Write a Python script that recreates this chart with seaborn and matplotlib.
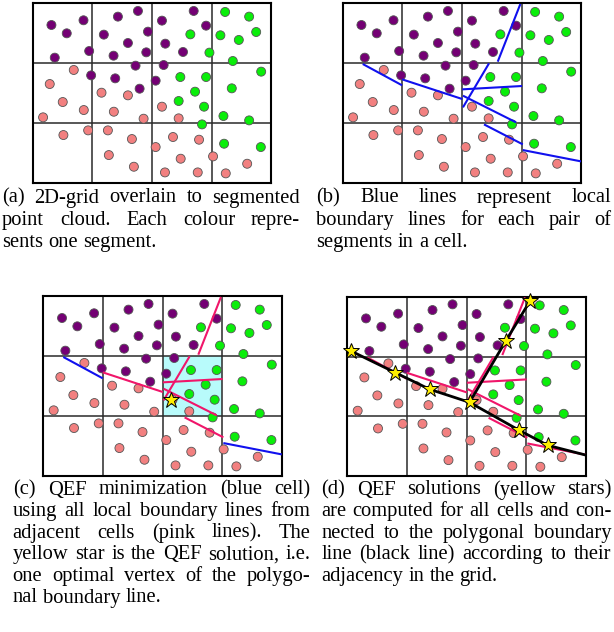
import matplotlib
matplotlib.use("Agg")
import matplotlib.pyplot as plt
import seaborn as sns
import pandas as pd
import numpy as np

sns.set_theme(style="white")
plt.rcParams['font.family'] = ['Liberation Serif', 'DejaVu Serif']

# ---- data (grid units: 4 x 3 cells, each cell 10 units; y grows downward) ----
purple_x = [3.14, 5.71, 8.52, 3.70, 9.47, 14.29, 17.65, 11.93, 19.33, 15.97, 13.56, 19.05,
            21.68, 27.00, 29.08, 22.24, 25.21, 17.25, 21.96, 9.80, 13.84, 17.93, 20.62]
purple_y = [3.63, 5.02, 2.84, 9.09, 7.98, 2.23, 1.28, 5.24, 4.74, 6.64, 8.76, 8.20,
            2.90, 1.28, 3.74, 6.75, 8.14, 10.43, 10.32, 12.05, 12.55, 14.28, 12.94]
green_x = [32.27, 36.30, 31.48, 34.57, 37.48, 26.44, 29.64, 33.56, 24.76, 29.08, 38.32,
           27.23, 33.39, 24.48, 28.74, 31.99, 36.30, 28.40, 32.10, 38.26]
green_y = [1.45, 2.23, 5.35, 6.13, 4.80, 5.19, 8.25, 9.65, 12.33, 12.33, 11.43,
           14.78, 14.22, 16.34, 17.29, 18.85, 19.58, 20.25, 23.48, 24.04]
pink_x = [6.89, 2.86, 5.04, 8.57, 1.74, 11.54, 15.97, 13.61, 18.60, 21.68, 24.48, 5.15, 9.30,
          12.61, 16.64, 12.77, 16.97, 20.62, 23.53, 27.90, 24.82, 30.25, 22.18, 27.68, 32.38, 35.97]
pink_y = [11.15, 13.50, 16.51, 17.85, 19.07, 14.95, 15.39, 18.13, 19.30, 17.29, 19.24, 22.03,
          21.25, 21.25, 22.70, 25.38, 27.33, 24.04, 22.36, 22.81, 25.99, 25.60, 28.28, 28.28,
          28.44, 26.83]

# local boundary lines: (x0, y0, x1, y1)
seg_x0 = [3.36, 9.97, 20.06, 20.17, 20.17, 26.0, 23.70, 30.20]
seg_y0 = [10.15, 12.72, 14.39, 15.45, 17.40, 9.76, 20.25, 24.54]
seg_x1 = [9.97, 20.06, 30.08, 29.08, 24.54, 29.8, 30.20, 40.0]
seg_y1 = [13.72, 16.01, 13.83, 19.91, 10.04, 0.11, 23.59, 26.44]
# which lines are pink (adjacent to QEF cell) in panel (c)
seg_pink_c = [False, True, True, True, True, True, True, False]

# QEF solution in panel (c)
qef_c = (21.4, 17.3)
# polygonal boundary in panel (d)
poly1_x = [0.61, 8.06, 13.83, 20.5, 28.83, 33.61, 39.9]
poly1_y = [9.08, 12.70, 15.49, 17.66, 22.34, 24.85, 26.46]
poly2_x = [20.5, 26.61, 30.67]
poly2_y = [17.66, 7.35, 0.67]
stars_x = [0.61, 8.06, 13.83, 20.5, 28.83, 33.61, 26.61, 30.67]
stars_y = [9.08, 12.70, 15.49, 17.66, 22.34, 24.85, 7.35, 0.67]

captions = {
    'a': ["(a) 2D-grid overlain to segmented",
          "point cloud.  Each colour repre-",
          "sents one segment."],
    'b': ["(b) Blue lines represent local",
          "boundary lines for each pair of",
          "segments in a cell."],
    'c': ["(c) QEF minimization (blue cell)",
          "using all local boundary lines from",
          "adjacent cells (pink lines).  The",
          "yellow star is the QEF solution, i.e.",
          "one optimal vertex of the polygo-",
          "nal boundary line."],
    'd': ["(d) QEF solutions (yellow stars)",
          "are computed for all cells and con-",
          "nected to the polygonal boundary",
          "line (black line) according to their",
          "adjacency in the grid."],
}

# ---- styling ----
W, H = 614, 632
fig = plt.figure(figsize=(W / 100, H / 100), dpi=100)
fig.patch.set_facecolor('white')

PURPLE = '#740074'
PINK = '#f28080'
GREEN = '#0aee0a'
BLUE = '#1010ee'
PINKLINE = '#f0166a'

df = pd.DataFrame({
    'x': purple_x + pink_x + green_x,
    'y': purple_y + pink_y + green_y,
    'seg': ['purple'] * len(purple_x) + ['pink'] * len(pink_x) + ['green'] * len(green_x),
})
pal = {'purple': PURPLE, 'pink': PINK, 'green': GREEN}

gw, gh = 238.5, 179.4
panels = {'a': (32.7, 3.3), 'b': (342.7, 3.3), 'c': (43.3, 296.3), 'd': (347.3, 296.7)}


def make_ax(key):
    x0, y0 = panels[key]
    ax = fig.add_axes([x0 / W, 1 - (y0 + gh) / H, gw / W, gh / H])
    ax.set_xlim(0, 40)
    ax.set_ylim(30, 0)
    ax.set_xticks([])
    ax.set_yticks([])
    ax.set_facecolor('white')
    for s in ax.spines.values():
        s.set_color('black')
        s.set_linewidth(1.5)
        s.set_visible(True)
    for v in (10, 20, 30):
        ax.axvline(v, color='#2a2a2a', lw=1.1, zorder=2)
    for h in (10, 20):
        ax.axhline(h, color='#2a2a2a', lw=1.1, zorder=2)
    sns.scatterplot(data=df, x='x', y='y', hue='seg', palette=pal, s=42,
                    edgecolor='#555555', linewidth=0.6, legend=False, ax=ax, zorder=3)
    ax.set_xlabel('')
    ax.set_ylabel('')
    return ax


def draw_segs(ax, colors):
    for i in range(len(seg_x0)):
        ax.plot([seg_x0[i], seg_x1[i]], [seg_y0[i], seg_y1[i]], color=colors[i],
                lw=1.5, solid_capstyle='butt', zorder=4)


ax_a = make_ax('a')

ax_b = make_ax('b')
draw_segs(ax_b, [BLUE] * len(seg_x0))

ax_c = make_ax('c')
ax_c.fill_between([20, 30], [10, 10], [20, 20], color='#b8fbfb', zorder=1, lw=0)
draw_segs(ax_c, [PINKLINE if p else BLUE for p in seg_pink_c])
ax_c.plot([qef_c[0]], [qef_c[1]], marker='*', ms=12, color='#ffee00', mec='black',
          mew=0.7, zorder=6, ls='none')

ax_d = make_ax('d')
draw_segs(ax_d, [PINKLINE] * len(seg_x0))
ax_d.plot(poly1_x, poly1_y, color='black', lw=2.0, zorder=5)
ax_d.plot(poly2_x, poly2_y, color='black', lw=2.0, zorder=5)
ax_d.plot(stars_x, stars_y, marker='*', ms=12, color='#ffee00', mec='black',
          mew=0.7, zorder=6, ls='none', clip_on=False)

# ---- justified captions ----
FS = 14.8
renderer = fig.canvas.get_renderer()


def draw_par(lines, x0, width, y_base, spacing):
    space_nat = 0.25 * FS * 100 / 72
    for i, line in enumerate(lines):
        words = line.split()
        yb = y_base + i * spacing
        texts = [fig.text(0, 0, w, fontsize=FS, color='black', va='baseline', ha='left')
                 for w in words]
        widths = [t.get_window_extent(renderer).width for t in texts]
        last = (i == len(lines) - 1)
        if last or len(words) == 1:
            gap = space_nat
        else:
            gap = (width - sum(widths)) / (len(words) - 1)
            gap = max(gap, space_nat * 0.6)
        x = x0
        for t, wdt in zip(texts, widths):
            t.set_position((x / W, 1 - yb / H))
            x += wdt + gap


draw_par(captions['a'], 2.0, 298, 202.5, 22.2)
draw_par(captions['b'], 316.5, 295, 202.5, 22.2)
draw_par(captions['c'], 12.7, 298, 494.5, 21.6)
draw_par(captions['d'], 321.5, 290, 494.5, 21.6)

fig.savefig('out.png', dpi=100, facecolor='white')
